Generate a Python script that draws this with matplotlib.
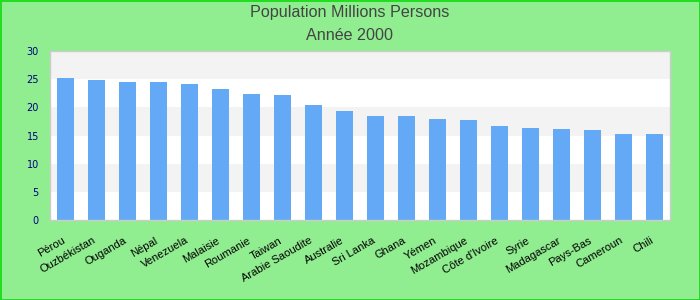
import matplotlib.pyplot as plt
import matplotlib.transforms as mtransforms
import numpy as np

# données
pays = ['Pérou', 'Ouzbékistan', 'Ouganda', 'Népal', 'Venezuela', 'Malaisie', 'Roumanie',
        'Taiwan', 'Arabie Saoudite', 'Australie', 'Sri Lanka', 'Ghana', 'Yémen', 'Mozambique',
        "Côte d'Ivoire", 'Syrie', 'Madagascar', 'Pays-Bas', 'Cameroun', 'Chili']
population = [25.2, 24.85, 24.5, 24.5, 24.1, 23.25, 22.4, 22.2, 20.4, 19.35,
              18.5, 18.5, 17.9, 17.75, 16.7, 16.3, 16.15, 15.95, 15.25, 15.25]
yticks = [0, 5, 10, 15, 20, 25, 30]
titre1 = 'Population Millions Persons'
titre2 = 'Année 2000'

fig = plt.figure(figsize=(7, 3), dpi=100)
fig.patch.set_facecolor('#90ee90')
fig.patch.set_edgecolor('#22dd22')
fig.patch.set_linewidth(2)

ax = fig.add_axes([50 / 700, 80 / 300, 620 / 700, 169 / 300])
ax.set_facecolor('white')

# bandes alternées
for i, y0 in enumerate(range(0, 30, 5)):
    ax.axhspan(y0, y0 + 5, color='white' if i % 2 == 0 else '#f3f3f3', zorder=0, lw=0)

x = np.arange(len(pays))
ax.bar(x, population, width=0.55, color='#63a9f5', zorder=2)
ax.set_xlim(-0.5, len(pays) - 0.5)
ax.set_ylim(0, 30)
ax.set_yticks(yticks)
ax.set_xticks(x)
ax.set_xticklabels(pays, rotation=30, ha='right', va='top', rotation_mode='anchor',
                   fontsize=8, family='Liberation Sans', color='black')
ax.tick_params(axis='x', length=0, pad=11)
ax.tick_params(axis='y', length=0, pad=8, labelsize=7, labelcolor='#000080')
decal = mtransforms.ScaledTranslation(-0.04, 0, fig.dpi_scale_trans)
for lbl in ax.get_xticklabels():
    lbl.set_transform(lbl.get_transform() + decal)

for s in ax.spines.values():
    s.set_color('#cccccc')
    s.set_linewidth(1)

fig.text(0.5, 1 - 13 / 300, titre1, ha='center', va='center', fontsize=11.6,
         color='#444444', family='Liberation Sans')
fig.text(0.5, 1 - 36 / 300, titre2, ha='center', va='center', fontsize=11.6,
         color='#444444', family='Liberation Sans')

fig.savefig('out.png', dpi=100, facecolor=fig.get_facecolor(), edgecolor=fig.get_edgecolor())
